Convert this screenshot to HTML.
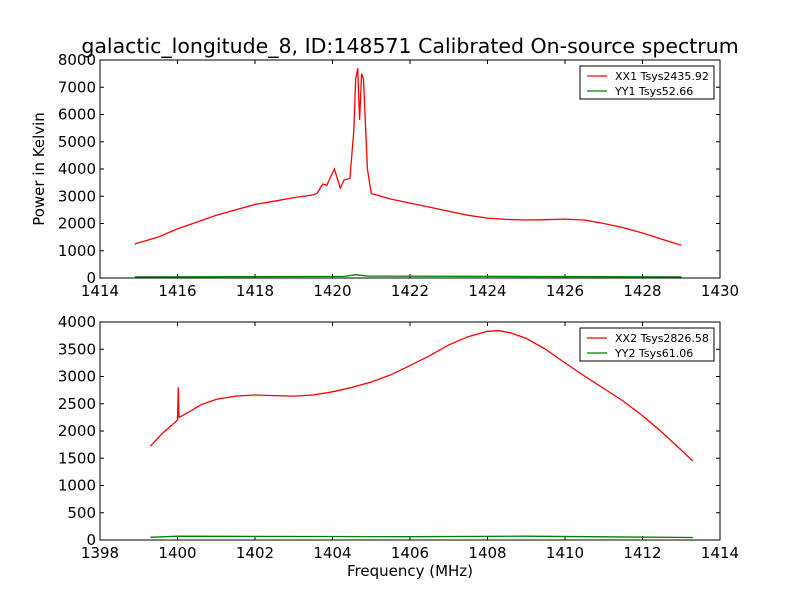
<!DOCTYPE html>
<html><head><meta charset="utf-8"><style>
body{margin:0;background:#fff}svg{display:block;font-family:"DejaVu Sans","Liberation Sans",sans-serif}
</style></head><body>
<svg id="c" width="800" height="600">
<rect width="800" height="600" fill="#fff"/>
<text x="410" y="53" font-size="20.5" text-anchor="middle">galactic_longitude_8, ID:148571 Calibrated On-source spectrum</text>
<text x="44" y="169" font-size="15" text-anchor="middle" transform="rotate(-90 44 169)">Power in Kelvin</text>
<text x="410" y="576" font-size="15" text-anchor="middle">Frequency (MHz)</text>
</svg>
<script>
const topXXf=[1414.9,1415.5,1416,1416.5,1417,1417.5,1418,1418.5,1419,1419.5,1419.6,1419.75,1419.85,1420.05,1420.2,1420.3,1420.45,1420.55,1420.6,1420.65,1420.7,1420.75,1420.8,1420.9,1421.0,1421.5,1422,1422.5,1423,1423.5,1424,1424.5,1425,1425.5,1426,1426.5,1427,1427.5,1428,1428.5,1429];
const topXXv=[1250,1500,1800,2050,2300,2500,2700,2820,2950,3050,3100,3450,3400,4000,3300,3600,3650,5400,7300,7700,5800,7500,7300,4000,3100,2900,2750,2600,2450,2300,2200,2150,2130,2140,2160,2130,2000,1850,1650,1420,1200];
const topYYf=[1414.9,1420.3,1420.6,1420.9,1429];
const topYYv=[40,60,120,70,40];
const botXXf=[1399.3,1399.6,1400,1400.02,1400.04,1400.3,1400.6,1401,1401.5,1402,1402.5,1403,1403.5,1404,1404.5,1405,1405.5,1406,1406.5,1407,1407.5,1408,1408.3,1408.6,1409,1409.5,1410,1410.5,1411,1411.5,1412,1412.5,1413,1413.3];
const botXXv=[1720,1950,2200,2800,2250,2350,2480,2580,2640,2660,2650,2640,2660,2720,2800,2900,3030,3200,3380,3580,3730,3830,3840,3800,3700,3500,3250,3010,2780,2550,2280,1980,1650,1450];
const botYYf=[1399.3,1400,1406,1409,1413.3];
const botYYv=[50,70,60,70,45];
const topXTicks=[1414,1416,1418,1420,1422,1424,1426,1428,1430];
const topYTicks=[0,1000,2000,3000,4000,5000,6000,7000,8000];
const botXTicks=[1398,1400,1402,1404,1406,1408,1410,1412,1414];
const botYTicks=[0,500,1000,1500,2000,2500,3000,3500,4000];
const svg=document.getElementById('c');const NS='http://www.w3.org/2000/svg';
function mk(t,a){const e=document.createElementNS(NS,t);for(const k in a)e.setAttribute(k,a[k]);svg.appendChild(e);return e;}
function panel(p,y0,xmin,xmax,ymax,xt,yt,series,leg){
 const L=100,R=720,T=y0,B=y0+218;
 const sx=f=>L+(f-xmin)/(xmax-xmin)*(R-L), sy=v=>B-v/ymax*(B-T);
 const fr=mk('rect',{x:L,y:T,width:R-L,height:B-T,fill:'none',stroke:'#000'});
 
 
 xt.forEach(t=>{const x=sx(t);mk('line',{x1:x,x2:x,y1:B,y2:B-4,stroke:'#000'});mk('line',{x1:x,x2:x,y1:T,y2:T+4,stroke:'#000'});
  const tx=mk('text',{x:x,y:B+18,'font-size':15,'text-anchor':'middle'});tx.textContent=t;
  
  });
 yt.forEach(t=>{const y=sy(t);mk('line',{x1:L,x2:L+4,y1:y,y2:y,stroke:'#000'});mk('line',{x1:R,x2:R-4,y1:y,y2:y,stroke:'#000'});
  const tx=mk('text',{x:L-4,y:y+5,'font-size':15,'text-anchor':'end'});tx.textContent=t;
  
  });
 series.forEach(s=>{const d=s.f.map((f,i)=>(i?'L':'M')+sx(f).toFixed(1)+' '+sy(s.v[i]).toFixed(1)).join('');
  const pa=mk('path',{d:d,fill:'none',stroke:s.c,'stroke-width':1.3});
  
  });
 const lg=mk('rect',{x:580,y:T+6,width:134,height:33,fill:'#fff',stroke:'#000'});
 
 
 series.forEach((s,i)=>{const y=T+16+i*15;mk('line',{x1:587,x2:607,y1:y,y2:y,stroke:s.c,'stroke-width':1.3});
  const tx=mk('text',{x:615,y:y+4,'font-size':11});tx.textContent=leg[i];
  
  });
}
panel('top',60,1414,1430,8000,topXTicks,topYTicks,[{f:topXXf,v:topXXv,c:'#f00',n:'xx1-line'},{f:topYYf,v:topYYv,c:'#008000',n:'yy1-line'}],['XX1 Tsys2435.92','YY1 Tsys52.66']);
panel('bottom',322,1398,1414,4000,botXTicks,botYTicks,[{f:botXXf,v:botXXv,c:'#f00',n:'xx2-line'},{f:botYYf,v:botYYv,c:'#008000',n:'yy2-line'}],['XX2 Tsys2826.58','YY2 Tsys61.06']);
</script>
</body></html>
